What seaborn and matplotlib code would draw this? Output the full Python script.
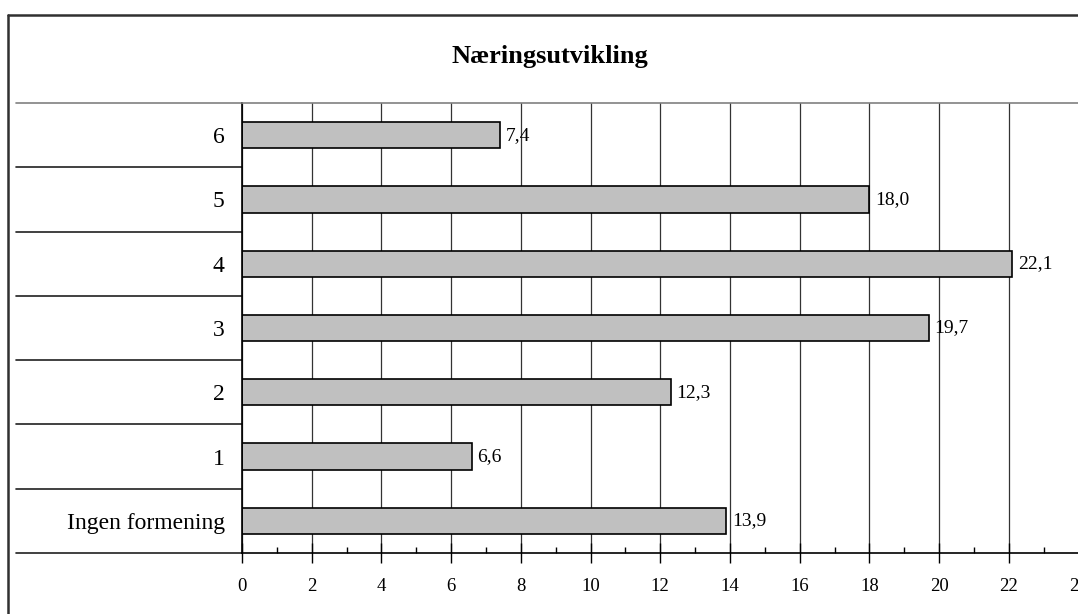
import numpy as np
import pandas as pd
import matplotlib
matplotlib.use("Agg")
import matplotlib.pyplot as plt
from matplotlib.lines import Line2D
from matplotlib.ticker import MultipleLocator
import seaborn as sns

# data
kategorier = ["6", "5", "4", "3", "2", "1", "Ingen formening"]
prosent = [7.4, 18.0, 22.1, 19.7, 12.3, 6.6, 13.9]
x_ticks = list(range(0, 25, 2))

df = pd.DataFrame({"kategori": kategorier, "prosent": prosent})

sns.set_style("white")
plt.rcParams["font.family"] = ["Liberation Serif", "DejaVu Serif"]
plt.rcParams["text.color"] = "black"
plt.rcParams["xtick.color"] = "black"
plt.rcParams["ytick.color"] = "black"

W, H = 1078, 614
fig = plt.figure(figsize=(W / 100, H / 100), dpi=100)
ax = fig.add_axes([242 / W, (H - 553) / H, (1078.5 - 242) / W, 450 / H])

sns.barplot(data=df, x="prosent", y="kategori", order=kategorier,
            color="#C0C0C0", edgecolor="black", linewidth=1.2,
            width=0.41, saturation=1, ax=ax)

ax.set_xlim(0, 24)
ax.set_ylim(len(kategorier) - 0.5, -0.5)
ax.set_xticks(x_ticks)
ax.set_xticklabels([str(t) for t in x_ticks])
ax.xaxis.set_minor_locator(MultipleLocator(1))
ax.set_xlabel("")
ax.set_ylabel("")

ax.set_axisbelow(True)
ax.grid(axis="x", which="major", color="#333333", linewidth=0.9)
ax.grid(axis="y", visible=False)

ax.tick_params(axis="x", which="major", bottom=True, direction="inout", length=14,
               width=1, labelsize=13.5, pad=11, color="black", labelcolor="black")
ax.tick_params(axis="x", which="minor", bottom=True, direction="in", length=4,
               width=1, color="black")
ax.tick_params(axis="y", left=False, length=0, labelsize=17, pad=12.5,
               labelcolor="black")

for side in ["left", "bottom"]:
    ax.spines[side].set_color("black")
    ax.spines[side].set_linewidth(1.2)
for side in ["top", "right"]:
    ax.spines[side].set_color("#808080")
    ax.spines[side].set_linewidth(1.2)
    ax.spines[side].set_visible(True)

# value labels with decimal comma
ax.bar_label(ax.containers[0],
             labels=[f"{v:.1f}".replace(".", ",") for v in prosent],
             padding=4, fontsize=14, color="black")

# table-like separator lines in the category column
left_edge = (16 - 242) / (1078.5 - 242)
for b in np.arange(-0.5, len(kategorier), 1.0):
    col = "#808080" if b < 0 else "#202020"
    ax.plot([left_edge, 0], [b, b], transform=ax.get_yaxis_transform(),
            color=col, linewidth=1.2, clip_on=False)

# outer chart frame
fig.add_artist(Line2D([8 / W, 8 / W], [0, (H - 15) / H], color="#303030",
                      linewidth=1.8, transform=fig.transFigure))
fig.add_artist(Line2D([8 / W, 1], [(H - 15) / H, (H - 15) / H], color="#303030",
                      linewidth=1.8, transform=fig.transFigure))

fig.text(550 / W, (H - 56) / H, "Næringsutvikling", ha="center", va="center",
         fontsize=19, fontweight="bold", color="black")

fig.savefig("out.png", dpi=100)
